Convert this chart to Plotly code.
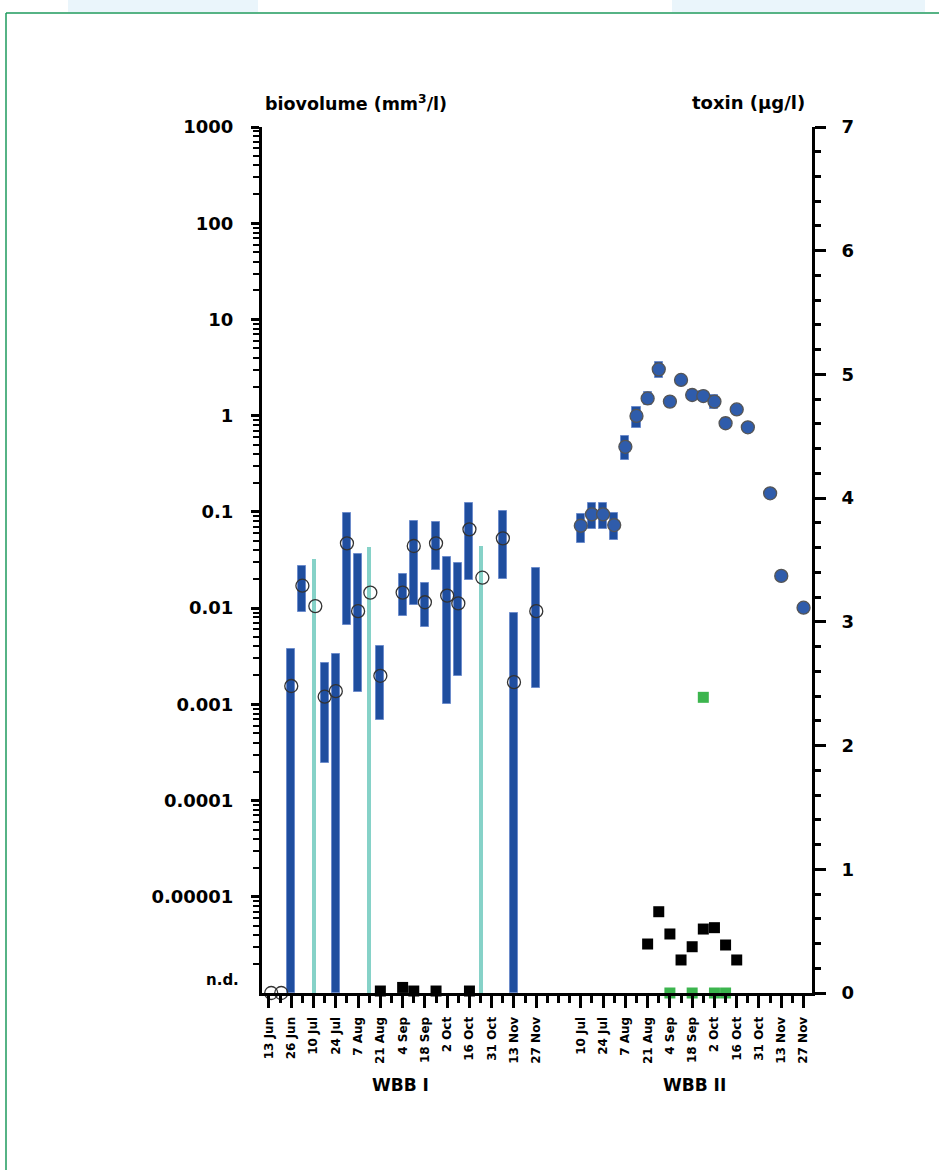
import plotly.graph_objects as go

# ---------------- data ----------------
ND = 1e-6  # "n.d." level on the biovolume axis

# x-axis slots (one slot = two weeks, half slots = weekly samples)
labels_I = ["13 Jun", "26 Jun", "10 Jul", "24 Jul", "7 Aug", "21 Aug", "4 Sep",
            "18 Sep", "2 Oct", "16 Oct", "31 Oct", "13 Nov", "27 Nov"]
pos_I = [0, 1, 2, 3, 4, 5, 6, 7, 8, 9, 10, 11, 12]
labels_II = ["10 Jul", "24 Jul", "7 Aug", "21 Aug", "4 Sep", "18 Sep", "2 Oct",
             "16 Oct", "31 Oct", "13 Nov", "27 Nov"]
pos_II = [14, 15, 16, 17, 18, 19, 20, 21, 22, 23, 24]

# WBB I biovolume ranges (mm3/l)
wbb1_x = [1.0, 1.5, 2.5, 3.0, 3.5, 4.0, 5.0, 6.0, 6.5, 7.0, 7.5, 8.0, 8.5, 9.0, 10.5, 11.0, 12.0]
wbb1_low = [ND, 0.0091, 0.000245, ND, 0.00667, 0.00133, 0.000687, 0.00828, 0.0108,
            0.00641, 0.0249, 0.00101, 0.00197, 0.0196, 0.0199, ND, 0.00147]
wbb1_high = [0.00376, 0.0276, 0.00271, 0.00333, 0.098, 0.0362, 0.00406, 0.0226, 0.081,
             0.0184, 0.079, 0.0342, 0.0292, 0.1245, 0.1028, 0.00883, 0.0263]
wbb1_mid = [0.00155, 0.0171, 0.0012, 0.00137, 0.0471, 0.0093, 0.00198, 0.0145, 0.0442,
            0.0115, 0.0471, 0.0135, 0.0112, 0.0659, 0.0531, 0.0017, 0.0093]

# WBB I light ranges (down to n.d.)
wbb1_lt_x = [2.0, 4.5, 9.5]
wbb1_lt_high = [0.0324, 0.0435, 0.0442]
wbb1_lt_mid_x = [2.08, 4.55, 9.58]
wbb1_lt_mid = [0.0105, 0.0145, 0.0207]

# WBB I not detected
wbb1_nd_x = [0.1, 0.55]
wbb1_nd_val = [ND, ND]

# WBB II biovolume
wbb2_x = [14.0, 14.5, 15.0, 15.5, 16.0, 16.5, 17.0, 17.5, 18.0, 18.5, 19.0, 19.5,
          20.0, 20.5, 21.0, 21.5, 22.5, 23.0, 24.0]
wbb2_mid = [0.0718, 0.0944, 0.0944, 0.073, 0.475, 0.993, 1.51, 3.03, 1.40, 2.35, 1.64,
            1.60, 1.40, 0.834, 1.16, 0.757, 0.156, 0.0216, 0.0101]
wbb2_low = [0.0478, 0.0664, 0.0664, 0.051, 0.346, 0.75, 1.29, 2.44, 1.25, 2.1, 1.47,
            1.43, 1.17, 0.74, 1.03, 0.68, 0.142, 0.0198, 0.0093]
wbb2_high = [0.095, 0.1228, 0.1228, 0.0967, 0.619, 1.24, 1.77, 3.59, 1.57, 2.6, 1.83,
             1.79, 1.64, 0.94, 1.3, 0.84, 0.171, 0.0236, 0.011]

# toxin (ug/l)
tox_black_x = [5.0, 6.0, 6.5, 7.5, 9.0, 17.0, 17.5, 18.0, 18.5, 19.0, 19.5, 20.0, 20.5, 21.0]
tox_black = [0.016, 0.045, 0.016, 0.016, 0.016, 0.396, 0.657, 0.477, 0.267, 0.374,
             0.517, 0.528, 0.388, 0.267]
tox_green_x = [18.0, 19.0, 19.5, 20.0, 20.5]
tox_green = [0.0, 0.0, 2.39, 0.0, 0.0]

y_ticks = [1e-5, 1e-4, 1e-3, 1e-2, 1e-1, 1, 10, 100, 1000]
y_ticktext = ["0.00001", "0.0001", "0.001", "0.01", "0.1", "1", "10", "100", "1000"]

# ---------------- figure ----------------
FONT = "DejaVu Sans"
BLUE = "#1f4e9f"
BLUE_EDGE = "#6d8ccb"
TEAL = "#86d2c8"

fig = go.Figure()

fig.add_trace(go.Bar(
    x=wbb1_lt_x, base=[ND] * len(wbb1_lt_x),
    y=[h - ND for h in wbb1_lt_high], width=0.18,
    marker=dict(color=TEAL, line=dict(width=0)), yaxis="y"))

fig.add_trace(go.Bar(
    x=wbb1_x, base=wbb1_low,
    y=[h - l for h, l in zip(wbb1_high, wbb1_low)], width=0.36,
    marker=dict(color=BLUE, line=dict(color=BLUE_EDGE, width=1)), yaxis="y"))

fig.add_trace(go.Bar(
    x=wbb2_x, base=wbb2_low,
    y=[h - l for h, l in zip(wbb2_high, wbb2_low)], width=0.36,
    marker=dict(color=BLUE, line=dict(color=BLUE_EDGE, width=1)), yaxis="y"))

fig.add_trace(go.Scatter(
    x=wbb1_x + wbb1_lt_mid_x + wbb1_nd_x, y=wbb1_mid + wbb1_lt_mid + wbb1_nd_val,
    mode="markers", cliponaxis=False, yaxis="y",
    marker=dict(symbol="circle-open", size=13, color="#333333", line=dict(width=1.3))))

fig.add_trace(go.Scatter(
    x=wbb2_x, y=wbb2_mid, mode="markers", cliponaxis=False, yaxis="y",
    marker=dict(symbol="circle", size=13, color="#2f5cab",
                line=dict(color="#555555", width=1.3))))

fig.add_trace(go.Scatter(
    x=tox_black_x, y=tox_black, mode="markers", cliponaxis=False, yaxis="y2",
    marker=dict(symbol="square", size=11, color="black")))

fig.add_trace(go.Scatter(
    x=tox_green_x, y=tox_green, mode="markers", cliponaxis=False, yaxis="y2",
    marker=dict(symbol="square", size=11, color="#3cb54e")))

x_tickvals = pos_I + pos_II
x_ticktext = labels_I + labels_II
x_minor = [p + 0.5 for p in range(0, 24)] + [13]

y_minor = [k * 10 ** d for d in range(-6, 3) for k in range(2, 10)]

PL, PR, PT, PB = 262, 812, 127, 993
W, H = 939, 1170
pw, ph = PR - PL, PB - PT


def px(xp):
    return (xp - PL) / pw


def py(yp):
    return (PB - yp) / ph


fig.update_layout(
    width=W, height=H, autosize=False,
    margin=dict(l=PL, r=W - PR, t=PT, b=H - PB, pad=0),
    paper_bgcolor="white", plot_bgcolor="white",
    showlegend=False, barmode="overlay", bargap=0,
    font=dict(family=FONT, color="black"),
    xaxis=dict(
        range=[-0.314, 24.38], tickmode="array", tickvals=x_tickvals, ticktext=x_ticktext,
        tickangle=-90, ticks="outside", ticklen=12, tickwidth=2.5, tickcolor="black",
        showline=True, linewidth=3, linecolor="black", showgrid=False, zeroline=False,
        tickfont=dict(family=FONT, size=12, weight="bold"), ticklabelstandoff=4,
        minor=dict(tickvals=x_minor, ticks="outside", ticklen=7, tickwidth=2.5,
                   tickcolor="black", showgrid=False)),
    yaxis=dict(
        type="log", range=[-6, 3], tickmode="array", tickvals=y_ticks, ticktext=y_ticktext,
        ticks="outside", ticklen=8, tickwidth=2.5, tickcolor="black",
        showline=True, linewidth=3, linecolor="black", showgrid=False, zeroline=False,
        tickfont=dict(family=FONT, size=18, weight="bold"), ticklabelstandoff=14,
        minor=dict(tickvals=y_minor, ticks="outside", ticklen=6, tickwidth=2,
                   tickcolor="black", showgrid=False)),
    yaxis2=dict(
        overlaying="y", side="right", anchor="x", range=[0, 7],
        tickmode="array", tickvals=[0, 1, 2, 3, 4, 5, 6, 7],
        ticks="outside", ticklen=11, tickwidth=2.5, tickcolor="black",
        showline=True, linewidth=3, linecolor="black", showgrid=False, zeroline=False,
        tickfont=dict(family=FONT, size=18, weight="bold"), ticklabelstandoff=12,
        minor=dict(dtick=0.2, tick0=0, ticks="outside", ticklen=6, tickwidth=2.5,
                   tickcolor="black", showgrid=False)),
)

ann_font = dict(family=FONT, color="black", weight="bold")
fig.add_annotation(text="biovolume (mm<sup>3</sup>/l)", xref="paper", yref="paper",
                   x=px(263), y=py(103), xanchor="left", yanchor="middle",
                   showarrow=False, font=dict(size=17.5, **ann_font))
fig.add_annotation(text="toxin (µg/l)", xref="paper", yref="paper",
                   x=px(807), y=py(103), xanchor="right", yanchor="middle",
                   showarrow=False, font=dict(size=18, **ann_font))
fig.add_annotation(text="n.d.", xref="paper", yref="paper",
                   x=px(241), y=py(980), xanchor="right", yanchor="middle",
                   showarrow=False, font=dict(size=15, **ann_font))
fig.add_annotation(text="WBB I", xref="paper", yref="paper",
                   x=px(400), y=py(1085), xanchor="center", yanchor="middle",
                   showarrow=False, font=dict(size=17, **ann_font))
fig.add_annotation(text="WBB II", xref="paper", yref="paper",
                   x=px(694), y=py(1085), xanchor="center", yanchor="middle",
                   showarrow=False, font=dict(size=17, **ann_font))

# page decoration: light strips at top and green frame
for x0, x1 in [(68, 258), (672, 925)]:
    fig.add_shape(type="rect", xref="paper", yref="paper", layer="below",
                  x0=px(x0), x1=px(x1), y0=py(12), y1=py(0),
                  fillcolor="#eaf5fb", line=dict(width=0))
fig.add_shape(type="line", xref="paper", yref="paper", x0=px(6), x1=px(W + 5),
              y0=py(13), y1=py(13), line=dict(color="#1e9a5c", width=1.5))
fig.add_shape(type="line", xref="paper", yref="paper", x0=px(6), x1=px(6),
              y0=py(13), y1=py(H + 5), line=dict(color="#1e9a5c", width=1.5))

fig.write_html("out.html")
